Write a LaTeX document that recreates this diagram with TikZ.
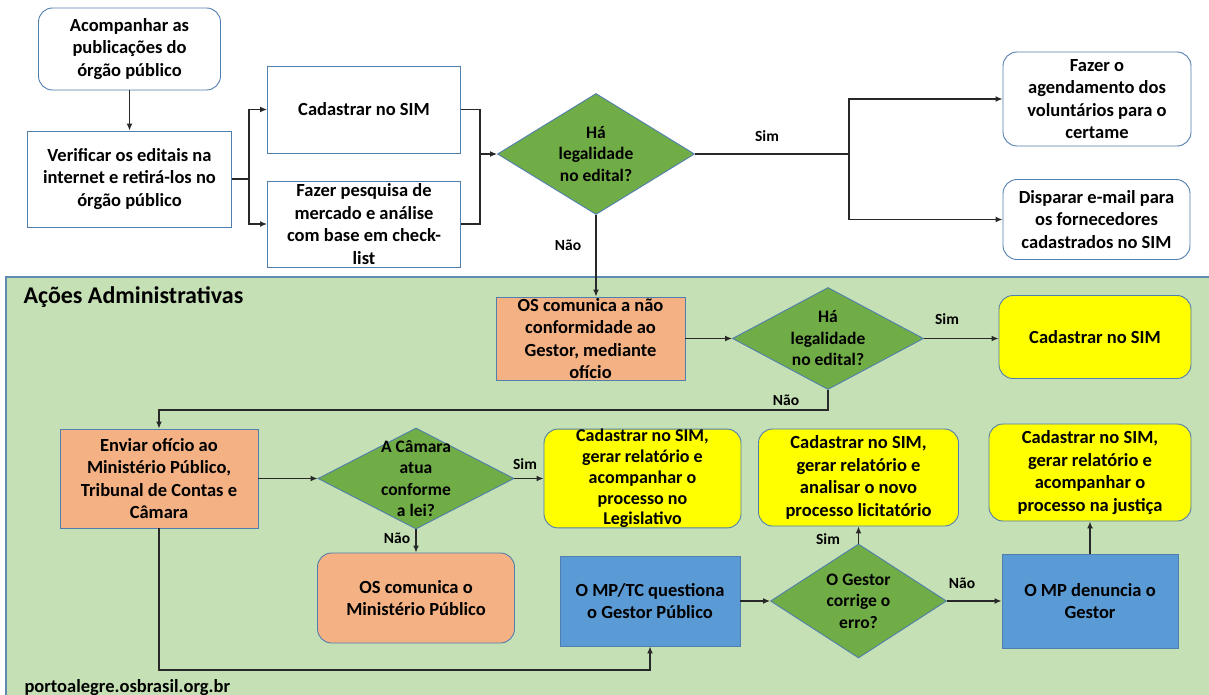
\documentclass[tikz,border=0pt]{standalone}
\usepackage{fontspec}
\setmainfont{Carlito}
\usetikzlibrary{shapes.geometric,arrows.meta}

\definecolor{boxline}{RGB}{80,126,174}
\definecolor{arealine}{RGB}{96,138,180}
\definecolor{areafill}{RGB}{197,224,180}
\definecolor{leaf}{RGB}{112,173,71}
\definecolor{peach}{RGB}{244,177,131}
\definecolor{sky}{RGB}{91,155,213}
\definecolor{lemon}{RGB}{255,255,0}
\definecolor{wire}{RGB}{40,40,40}

\begin{document}
\begin{tikzpicture}[x=1pt,y=-1pt]

\tikzstyle{every node}=[font=\fontsize{18.5}{22.6}\selectfont\bfseries,align=center,text=black];
\tikzstyle{plain}=[draw=boxline,line width=0.9pt,inner sep=0pt,fill=white];
\tikzstyle{soft}=[plain,rounded corners=14pt];
\tikzstyle{decision}=[diamond,draw=boxline,line width=0.9pt,fill=leaf,inner sep=0pt];
\tikzstyle{dtext}=[font=\fontsize{17.5}{21.5}\selectfont\bfseries];
\tikzstyle{tag}=[font=\fontsize{15.5}{18}\selectfont\bfseries,inner sep=1pt];
\tikzstyle{wireline}=[draw=wire,line width=1.3pt];
\tikzstyle{link}=[wireline,-{Latex[length=7pt,width=6pt]}];

\useasboundingbox (0,0) rectangle (1209,695);
\fill[white] (0,0) rectangle (1209,695);

% Green area of the administrative actions
\draw[draw=arealine,line width=1.5pt,fill=areafill] (6,277) rectangle (1230,720);
\node[anchor=base west,font=\fontsize{24}{28}\selectfont\bfseries] (title) at (20,303) {Ações Administrativas};
\node[anchor=base west] (site) at (21,692) {portoalegre.osbrasil.org.br};

% Top row: reading the public notices
\node[soft,minimum width=182,minimum height=82] (a1) at (129.5,49) {Acompanhar as\\publicações do\\órgão público};
\node[plain,minimum width=204,minimum height=96] (v) at (129.5,179) {Verificar os editais na\\internet e retirá-los no\\órgão público};
\node[plain,minimum width=193,minimum height=87] (c1) at (364,109.5) {Cadastrar no SIM};
\node[plain,minimum width=193,minimum height=86] (f) at (364,224) {Fazer pesquisa de\\mercado e análise\\com base em check-\\list};
\node[decision,minimum width=197,minimum height=121,label={[dtext]center:{Há\\legalidade\\no edital?}}] (d1) at (596,154) {};
\node[soft,minimum width=188,minimum height=94] (r1) at (1097,99) {Fazer o\\agendamento dos\\voluntários para o\\certame};
\node[soft,minimum width=187,minimum height=80] (r2) at (1096.5,219.5) {Disparar e-mail para\\os fornecedores\\cadastrados no SIM};

% Administrative actions
\node[plain,fill=peach,minimum width=189,minimum height=83] (o1) at (590.5,338.5) {OS comunica a não\\conformidade ao\\Gestor, mediante\\ofício};
\node[decision,minimum width=191,minimum height=102,label={[dtext]center:{Há\\legalidade\\no edital?}}] (d2) at (828,338.5) {};
\node[soft,fill=lemon,minimum width=192,minimum height=83] (y1) at (1095,337) {Cadastrar no SIM};
\node[plain,fill=peach,minimum width=198,minimum height=99] (e) at (159,478.5) {Enviar ofício ao\\Ministério Público,\\Tribunal de Contas e\\Câmara};
\node[decision,minimum width=196,minimum height=101,label={[dtext]center:{A Câmara\\atua\\conforme\\a lei?}}] (d4) at (416,478.5) {};
\node[soft,fill=lemon,minimum width=197,minimum height=97,font=\fontsize{18}{20.8}\selectfont\bfseries] (y2) at (642.5,478.5) {Cadastrar no SIM,\\gerar relatório e\\acompanhar o\\processo no\\Legislativo};
\node[soft,fill=lemon,minimum width=200,minimum height=97] (y3) at (858.5,477.5) {Cadastrar no SIM,\\gerar relatório e\\analisar o novo\\processo licitatório};
\node[soft,fill=lemon,minimum width=202,minimum height=97] (y4) at (1090,472.5) {Cadastrar no SIM,\\gerar relatório e\\acompanhar o\\processo na justiça};
\node[soft,fill=peach,minimum width=197,minimum height=90] (o2) at (416,598) {OS comunica o\\Ministério Público};
\node[plain,fill=sky,minimum width=180,minimum height=90] (b1) at (650,601) {O MP/TC questiona\\o Gestor Público};
\node[decision,minimum width=176,minimum height=114,label={[dtext]center:{O Gestor\\corrige o\\erro?}}] (d3) at (858.5,601) {};
\node[plain,fill=sky,minimum width=176,minimum height=94] (b2) at (1090,601) {O MP denuncia o\\Gestor};

% Bend points of the connectors
\coordinate (s1) at (249,179);
\coordinate (m1) at (480,154);
\coordinate (s2) at (849,154);
\coordinate (t1) at (828,410);
\coordinate (t2) at (159,670);

% Connectors
\draw[link] (a1) -- (v);
\draw[link] (v) -- (s1) |- (c1);
\draw[link] (s1) |- (f);
\draw[wireline] (c1) -| (m1)
(f) -| (m1);
\draw[link] (m1) -- (d1);
\draw[link] (d1) -- (s2) |- (r1);
\draw[link] (s2) |- (r2);
\draw[link] (d1.south) -- (d1.south |- o1.north);
\draw[link] (o1) -- (d2);
\draw[link] (d2.east) -- (d2.east -| y1.west);
\draw[link] (d2.south) -- (t1) -| (e);
\draw[link] (e) -- (d4);
\draw[link] (d4) -- (y2);
\draw[link] (d4) -- (o2);
\draw[link] (e) -- (t2) -| (b1);
\draw[link] (b1) -- (d3);
\draw[link] (d3) -- (b2);
\draw[link] (d3) -- (y3);
\draw[link] (b2) -- (y4);

% Answers on the connectors
\foreach \txt/\px/\py [count=\k] in {Sim/767/136, Não/568/245, Sim/947/319, Não/786/400, Sim/525/464, Não/397/538, Sim/828/539, Não/962/583}
  \node[tag] (ans\k) at (\px,\py) {\txt};

\end{tikzpicture}
\end{document}
